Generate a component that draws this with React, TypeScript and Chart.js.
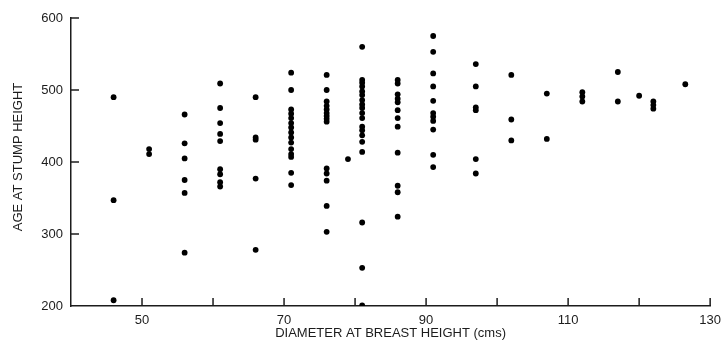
import React, { useEffect, useRef } from "react";
import { Chart, registerables } from "chart.js";

Chart.register(...registerables);

// Diameter at breast height (cms) for each column of trees
const diameters = [46, 51, 56, 61, 66, 71, 76, 79, 81, 86, 91, 97, 102, 107, 112, 117, 120, 122, 126.5];

// Age at stump height for the trees of each column
const ages: number[][] = [
  [490, 347, 208],
  [418, 411],
  [466, 426, 405, 375, 357, 274],
  [509, 475, 454, 439, 429, 390, 383, 372, 366],
  [490, 434, 431, 377, 278],
  [524, 500, 473, 467, 461, 454, 448, 441, 434, 427, 418, 411, 407, 385, 368],
  [521, 500, 484, 478, 473, 468, 464, 460, 456, 391, 384, 374, 339, 303],
  [404],
  [560, 514, 510, 505, 498, 493, 486, 480, 475, 468, 461, 449, 444, 437, 428, 414, 316, 253, 201],
  [514, 509, 494, 488, 483, 472, 461, 449, 413, 367, 358, 324],
  [575, 553, 523, 505, 485, 468, 463, 457, 445, 410, 393],
  [536, 505, 476, 472, 404, 384],
  [521, 459, 430],
  [495, 432],
  [497, 491, 484],
  [525, 484],
  [492],
  [484, 479, 474],
  [508],
];

const xTickValues = [40, 50, 60, 70, 80, 90, 100, 110, 120, 130];
const xTickLabels = ["", "50", "", "70", "", "90", "", "110", "", "130"];
const yTickValues = [200, 300, 400, 500, 600];

const xTitle = "DIAMETER AT BREAST HEIGHT (cms)";
const yTitle = "AGE AT STUMP HEIGHT";

const INK = "#1c1c1c";
const FONT = "'Liberation Sans', Arial, sans-serif";

export default function App() {
  const canvasRef = useRef<HTMLCanvasElement | null>(null);

  useEffect(() => {
    const canvas = canvasRef.current;
    if (!canvas) return;

    const points: { x: number; y: number }[] = [];
    diameters.forEach((d, i) => {
      ages[i].forEach((a) => points.push({ x: d, y: a }));
    });

    const decorPlugin = {
      id: "decor",
      afterDraw(chart: any) {
        const { ctx, chartArea, scales } = chart;
        const xs = scales.x;
        const ys = scales.y;
        ctx.save();
        ctx.strokeStyle = INK;
        ctx.lineWidth = 1.5;
        // inward tick marks on x axis
        xTickValues.forEach((v) => {
          if (v === xs.min) return;
          const px = xs.getPixelForValue(v);
          ctx.beginPath();
          ctx.moveTo(px, chartArea.bottom);
          ctx.lineTo(px, chartArea.bottom - 8);
          ctx.stroke();
        });
        // inward tick marks on y axis
        yTickValues.forEach((v) => {
          if (v === ys.min) return;
          const py = ys.getPixelForValue(v);
          ctx.beginPath();
          ctx.moveTo(chartArea.left, py);
          ctx.lineTo(chartArea.left + 8, py);
          ctx.stroke();
        });
        // axis titles
        ctx.fillStyle = INK;
        ctx.font = `13px ${FONT}`;
        ctx.textAlign = "center";
        ctx.textBaseline = "middle";
        ctx.fillText(xTitle, (chartArea.left + chartArea.right) / 2, chartArea.bottom + 27);
        ctx.translate(chartArea.left - 53, (chartArea.top + chartArea.bottom) / 2 - 5);
        ctx.rotate(-Math.PI / 2);
        ctx.fillText(yTitle, 0, 0);
        ctx.restore();
      },
    };

    const chart = new Chart(canvas, {
      type: "scatter",
      data: {
        datasets: [
          {
            data: points,
            backgroundColor: "#000000",
            borderWidth: 0,
            pointRadius: 2.9,
            pointHoverRadius: 2.9,
          },
        ],
      },
      options: {
        responsive: false,
        animation: false,
        events: [],
        layout: { padding: { top: 18, right: 12, left: 0, bottom: 0 } },
        plugins: {
          legend: { display: false },
          tooltip: { enabled: false },
          title: { display: false },
        },
        scales: {
          x: {
            type: "linear",
            min: 40,
            max: 130,
            afterFit: (s: any) => {
              s.height = 45;
            },
            afterBuildTicks: (s: any) => {
              s.ticks = xTickValues.map((v) => ({ value: v }));
            },
            grid: { display: true, drawOnChartArea: false, drawTicks: false, tickLength: 0 },
            border: { display: true, color: INK, width: 1.5 },
            ticks: {
              autoSkip: false,
              maxRotation: 0,
              padding: 7,
              color: INK,
              font: { family: FONT, size: 13 },
              callback: (_v: any, i: number) => xTickLabels[i],
            },
          },
          y: {
            type: "linear",
            min: 200,
            max: 600,
            afterFit: (s: any) => {
              s.width = 71;
            },
            afterBuildTicks: (s: any) => {
              s.ticks = yTickValues.map((v) => ({ value: v }));
            },
            grid: { display: true, drawOnChartArea: false, drawTicks: false, tickLength: 0 },
            border: { display: true, color: INK, width: 1.5 },
            ticks: {
              padding: 8,
              color: INK,
              font: { family: FONT, size: 13 },
              callback: (v: any) => String(v),
            },
          },
        },
      },
      plugins: [decorPlugin],
    });

    return () => chart.destroy();
  }, []);

  return (
    <div style={{ position: "absolute", left: 0, top: 0, width: 728, height: 351, background: "#ffffff" }}>
      <canvas ref={canvasRef} width={728} height={351} />
    </div>
  );
}
